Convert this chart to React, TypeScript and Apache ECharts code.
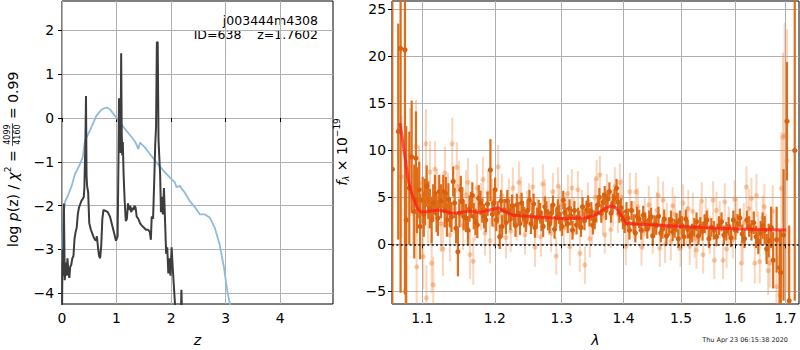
import React, { useEffect, useRef } from 'react';
import * as echarts from 'echarts';

// ---------- left panel: log p(z) (dark) and prior-like curve (blue) ----------
const pdfCurve: [number, number][] = [
  [0.0, -4.5], [0.01, -3.0], [0.02, -3.6], [0.035, -1.95], [0.05, -3.7], [0.07, -3.3], [0.085, -3.6],
  [0.1, -3.2], [0.12, -3.55], [0.135, -3.65], [0.15, -3.4], [0.17, -3.35], [0.19, -3.2], [0.21, -3.15],
  [0.23, -2.75], [0.25, -2.6], [0.27, -2.5], [0.29, -2.2], [0.31, -2.05], [0.33, -1.98], [0.36, -1.88],
  [0.38, -1.85], [0.4, -1.8], [0.41, -1.6], [0.43, -0.5], [0.44, 0.5], [0.45, -1.3], [0.46, -1.55],
  [0.48, -1.7], [0.5, -2.4], [0.53, -2.55], [0.56, -2.65], [0.59, -2.75], [0.62, -2.8], [0.64, -2.7],
  [0.66, -2.95], [0.68, -3.15], [0.7, -3.2], [0.72, -2.9], [0.74, -2.3], [0.76, -2.1], [0.8, -2.12],
  [0.84, -2.15], [0.88, -2.25], [0.92, -2.45], [0.96, -2.65], [0.99, -2.8], [1.02, -2.7], [1.035, -1.0],
  [1.045, 0.45], [1.06, -0.3], [1.075, -0.8], [1.085, 1.48], [1.095, -0.3], [1.105, -0.85], [1.115, -0.55],
  [1.13, -1.3], [1.15, -1.9], [1.17, -2.35], [1.19, -2.3], [1.21, -1.95], [1.23, -2.1], [1.25, -2.0],
  [1.27, -2.15], [1.29, -2.05], [1.31, -2.1], [1.33, -2.0], [1.35, -2.05], [1.37, -2.25], [1.4, -2.3],
  [1.43, -2.4], [1.46, -2.45], [1.5, -2.5], [1.54, -2.55], [1.58, -2.55], [1.61, -2.6], [1.63, -2.78],
  [1.645, -2.25], [1.67, -2.3], [1.69, -1.5], [1.71, -0.6], [1.725, -0.2], [1.74, 1.73], [1.755, 1.73],
  [1.77, -0.5], [1.785, -0.9], [1.8, -1.3], [1.815, -2.15], [1.83, -1.8], [1.85, -2.2], [1.87, -1.6],
  [1.89, -2.35], [1.91, -3.1], [1.93, -2.95], [1.95, -3.55], [1.97, -3.2], [1.99, -3.6], [2.01, -2.95],
  [2.03, -3.4], [2.06, -4.0], [2.09, -4.6], [2.12, -5.5], [2.17, -5.0], [2.19, -3.92], [2.2, -4.4], [2.22, -6.5],
];

const priorCurve: [number, number][] = [
  [0.0, -3.3], [0.01, -2.7], [0.03, -2.2], [0.06, -1.9], [0.11, -1.77], [0.177, -1.55], [0.238, -1.28],
  [0.33, -1.05], [0.38, -0.9], [0.42, -0.52], [0.48, -0.37], [0.54, -0.21], [0.63, 0.05], [0.73, 0.2],
  [0.82, 0.24], [0.88, 0.2], [0.97, 0.05], [1.06, -0.1], [1.18, -0.29], [1.28, -0.44], [1.35, -0.56],
  [1.4, -0.71], [1.43, -0.56], [1.52, -0.67], [1.61, -0.82], [1.73, -1.01], [1.86, -1.2], [1.98, -1.36],
  [2.07, -1.47], [2.1, -1.58], [2.16, -1.55], [2.25, -1.7], [2.34, -1.89], [2.44, -2.04], [2.53, -2.2],
  [2.62, -2.2], [2.71, -2.27], [2.8, -2.5], [2.89, -2.88], [2.97, -3.41], [3.03, -3.94], [3.08, -4.25], [3.15, -5.0],
];

const zTicks = [0, 1, 2, 3, 4];
const logpTicks = [-4, -3, -2, -1, 0, 1, 2];

// ---------- right panel: spectrum [lambda (um), f_lambda, error] ----------
const specFaded: [number, number, number][] = [
  [1.0731, 7.2, 6.5], [1.0774, -5.0, 5], [1.0839, 9.5, 5], [1.0878, 4.0, 4], [1.0917, 10.4, 5],
  [1.0926, -2.4, 4.5], [1.0957, 6.5, 4], [1.1013, -1.3, 3.5], [1.1049, 10.7, 3.7], [1.1055, -5.7, 3.5],
  [1.1102, 7.7, 3.3], [1.1124, -2.0, 3.2], [1.1146, -4.3, 3], [1.1195, 5.0, 3], [1.1249, 2.2, 3],
  [1.1303, 7.6, 2.8], [1.1344, 4.8, 2.8], [1.1402, 10.7, 2.8], [1.1439, 3.8, 2.7], [1.1494, 6.2, 2.7],
  [1.155, 2.0, 2.6], [1.1592, 5.3, 2.6], [1.1647, -1.1, 2.6], [1.1693, -1.8, 2.5], [1.1745, 6.0, 2.5],
  [1.1801, 4.0, 2.5], [1.1858, 1.2, 2.4], [1.1901, 5.5, 2.4], [1.1957, 4.6, 2.4], [1.2, 2.0, 2.3],
  [1.2047, 8.26, 2.3], [1.2101, 5.2, 2.3], [1.216, 0.7, 2.2], [1.2203, 4.8, 2.2], [1.2262, 6.0, 2.2],
  [1.232, 2.6, 2.2], [1.238, 5.0, 2.2], [1.244, 1.0, 2.1], [1.2499, 4.4, 2.1], [1.2559, 6.1, 2.1],
  [1.262, 2.8, 2.1], [1.268, 0.8, 2.1], [1.2741, 4.8, 2.1], [1.2803, 3.0, 2.0], [1.2864, 5.6, 2.0],
  [1.2917, -1.25, 2.0], [1.2972, 4.2, 2.0], [1.3035, 1.8, 2.0], [1.3097, 5.4, 2.0], [1.3128, -0.25, 2.0],
  [1.3191, 3.0, 2.0], [1.3255, 5.8, 2.0], [1.3287, -0.96, 2.0], [1.3367, -2.2, 2.0], [1.3415, 4.6, 2.0],
  [1.3479, 2.0, 2.0], [1.3555, 7.0, 2.0], [1.3609, 7.4, 2.0], [1.3658, 3.0, 2.0], [1.3723, 5.5, 2.0],
  [1.3789, 1.6, 2.0], [1.3855, 6.2, 2.0], [1.3905, 3.2, 2.0], [1.3972, 5.0, 2.0], [1.404, -0.2, 2.0],
  [1.4107, 5.6, 2.0], [1.4175, 2.6, 2.0], [1.4242, 4.0, 2.0], [1.4305, -0.25, 2.0], [1.4361, 2.9, 2.0],
  [1.4431, 4.2, 2.0], [1.45, 1.0, 2.0], [1.457, 3.6, 2.0], [1.4623, -0.4, 2.0], [1.4681, 4.7, 2.0],
  [1.4746, 2.4, 2.0], [1.4817, 0.3, 2.0], [1.4888, 3.2, 2.0], [1.4959, 1.3, 2.0], [1.5036, 4.4, 2.0],
  [1.5103, 2.0, 2.0], [1.5157, -0.2, 2.0], [1.5212, 3.5, 2.0], [1.5279, -0.6, 2.0], [1.534, 2.4, 2.0],
  [1.5401, -1.1, 2.0], [1.5451, 3.0, 2.0], [1.5525, 1.0, 2.0], [1.5587, 4.7, 2.0], [1.561, -1.7, 2.0],
  [1.5712, 2.6, 2.0], [1.5774, -1.7, 2.0], [1.5806, 4.5, 2.0], [1.5882, 2.0, 2.0], [1.5959, 0.5, 2.0],
  [1.6035, 3.0, 2.0], [1.6126, -2.0, 2.0], [1.617, 2.3, 2.1], [1.6222, 6.1, 2.2], [1.632, 4.9, 2.2],
  [1.6385, -2.0, 2.2], [1.6418, 5.2, 2.3], [1.6483, -1.85, 2.3], [1.6543, 2.8, 2.4], [1.6603, 0.8, 2.5],
  [1.6682, -2.0, 2.6], [1.6742, 3.5, 2.8], [1.6817, -4.5, 3], [1.6882, -5.4, 4], [1.6916, 5.96, 6],
  [1.6949, 11.4, 9], [1.6983, 11.6, 12], [1.703, 8.9, 14],
];

const specFadedB: [number, number, number][] = [
  [1.1075, 3.5, 3.4], [1.117, 8.0, 3], [1.1275, -0.5, 2.9], [1.137, 1.0, 2.8], [1.1465, 8.2, 2.7],
  [1.152, 4.5, 2.6], [1.162, 6.6, 2.6], [1.172, 2.9, 2.5], [1.183, 6.9, 2.4], [1.193, 0.4, 2.4],
  [1.2075, 3.0, 2.3], [1.223, 1.4, 2.2], [1.235, 6.6, 2.2], [1.247, 3.6, 2.1], [1.259, -0.3, 2.1],
  [1.271, 6.4, 2.1], [1.2835, 1.2, 2.0], [1.2945, 6.2, 2.0], [1.3065, 3.5, 2.0], [1.316, 6.0, 2.0],
  [1.332, 3.8, 2.0], [1.3445, 0.6, 2.0], [1.353, 5.0, 2.0], [1.369, 1.0, 2.0], [1.3825, 3.9, 2.0],
  [1.394, 6.6, 2.0], [1.4075, 1.8, 2.0], [1.421, 5.6, 2.0], [1.4335, 1.4, 2.0], [1.4465, 3.0, 2.0],
  [1.4595, 5.2, 2.0], [1.4715, 0.0, 2.0], [1.485, 4.1, 2.0], [1.499, -0.4, 2.0], [1.513, 3.8, 2.0],
  [1.5245, 0.6, 2.0], [1.5375, 4.6, 2.0], [1.549, 1.8, 2.0], [1.565, 3.6, 2.0], [1.584, -0.5, 2.0],
  [1.5995, 4.8, 2.0], [1.615, 0.2, 2.0], [1.627, 3.8, 2.1], [1.645, 1.2, 2.3], [1.6575, 4.0, 2.4],
  [1.665, -2.8, 2.6],
];

const specSolid: [number, number, number][] = [
  [1.0612, 8.0, 22], [1.0688, 12.0, 11.5], [1.0718, 20.85, 26], [1.0774, 20.7, 26], [1.079, 2.6, 10],
  [1.083, 6.0, 6], [1.0861, 9.3, 6], [1.0895, 3.5, 5], [1.0917, 9.15, 5], [1.093, 4.7, 3.5],
  [1.096, 5.8, 3], [1.0972, 1.9, 3.5], [1.1005, 4.7, 2.5], [1.1036, 4.5, 2.5], [1.108, 4.7, 2],
  [1.1124, 2.6, 2.5], [1.1168, 5.4, 2], [1.119, 3.3, 2], [1.1226, 5.6, 1.8], [1.128, 5.6, 1.8],
  [1.1315, 5.4, 1.8], [1.133, 2.6, 1.8], [1.137, 3.4, 1.6], [1.1415, 6.7, 1.6], [1.1455, 1.7, 1.6],
  [1.148, -0.8, 2.6], [1.152, 5.8, 1.5], [1.156, 3.0, 1.5], [1.162, 1.5, 1.5], [1.166, 4.2, 1.4],
  [1.17, 3.0, 1.4], [1.175, 2.05, 1.4], [1.177, 4.9, 1.4], [1.182, 3.6, 1.3], [1.187, 2.6, 1.3],
  [1.1936, 7.9, 3.3], [1.1965, 3.2, 1.3], [1.2003, 5.8, 1.3], [1.204, 3.4, 1.2], [1.207, 0.8, 1.3],
  [1.2105, 1.9, 1.2], [1.2138, 3.65, 1.2], [1.218, 4.6, 1.2], [1.2225, 2.7, 1.2], [1.2276, 3.1, 1.2],
  [1.232, 4.2, 1.2], [1.2367, 2.2, 1.2], [1.241, 3.5, 1.1], [1.2455, 2.4, 1.1], [1.2507, 4.7, 1.1],
  [1.255, 3.0, 1.1], [1.259, 1.8, 1.1], [1.2647, 3.65, 1.1], [1.269, 2.5, 1.1], [1.274, 4.0, 1.1],
  [1.279, 2.6, 1.1], [1.284, 3.3, 1.0], [1.289, 1.6, 1.0], [1.294, 3.8, 1.0], [1.298, 2.4, 1.0],
  [1.3025, 4.7, 1.0], [1.307, 2.9, 1.0], [1.3123, 3.8, 1.0], [1.317, 1.5, 1.0], [1.3234, 2.05, 1.0],
  [1.328, 2.6, 1.0], [1.333, 4.0, 1.0], [1.3394, 3.65, 1.0], [1.344, 2.9, 1.0], [1.3497, 2.05, 1.0],
  [1.355, 3.3, 1.0], [1.3601, 5.0, 1.0], [1.3664, 4.5, 1.0], [1.371, 3.6, 1.0], [1.3765, 5.6, 1.0],
  [1.382, 4.4, 1.0], [1.3884, 5.96, 1.0], [1.393, 3.3, 1.0], [1.399, 2.6, 1.0], [1.405, 3.5, 1.0],
  [1.41, 1.5, 1.0], [1.417, 2.2, 1.0], [1.423, 3.0, 1.0], [1.43, 1.5, 1.0], [1.437, 2.4, 1.0],
  [1.4438, 2.6, 1.0], [1.45, 0.9, 1.0], [1.456, 2.0, 1.0], [1.464, 1.2, 1.0], [1.47, 2.7, 1.0],
  [1.4787, 1.9, 1.0], [1.485, 1.35, 1.0], [1.492, 2.3, 1.0], [1.498, 2.6, 1.0], [1.505, 0.8, 1.0],
  [1.512, 1.6, 1.0], [1.52, 1.2, 1.0], [1.528, 2.4, 1.0], [1.535, 1.9, 1.0], [1.543, 2.2, 1.0],
  [1.551, 0.6, 1.0], [1.56, 1.5, 1.0], [1.5697, 2.0, 1.0], [1.579, 1.0, 1.0], [1.588, 1.9, 1.0],
  [1.597, 2.6, 1.0], [1.605, 2.2, 1.0], [1.614, 1.1, 1.0], [1.623, 2.6, 1.0], [1.632, 1.5, 1.1],
  [1.641, 0.8, 1.2], [1.65, 1.2, 1.3], [1.658, 1.5, 1.5], [1.666, 0.4, 1.8], [1.675, -1.7, 3],
  [1.682, 0.5, 3.5], [1.688, -2.5, 4], [1.6905, -3.0, 4.5], [1.696, 1.0, 7], [1.703, 13.1, 6.3],
  [1.7075, -6.0, 8], [1.7189, 10.0, 16],
];

const specSolidB: [number, number, number][] = [
  [1.102, 3.2, 2.4], [1.1058, 6.2, 2.2], [1.11, 3.8, 2.1], [1.1145, 4.4, 2], [1.1208, 2.8, 1.9],
  [1.125, 4.6, 1.8], [1.13, 3.6, 1.8], [1.135, 4.8, 1.7], [1.1392, 2.9, 1.6], [1.1435, 4.4, 1.6],
  [1.15, 3.3, 1.5], [1.154, 4.6, 1.5], [1.159, 2.8, 1.5], [1.164, 3.8, 1.4], [1.168, 5.2, 1.4],
  [1.1725, 2.4, 1.4], [1.1795, 4.4, 1.3], [1.1845, 3.0, 1.3], [1.1895, 4.3, 1.3], [1.1985, 4.4, 1.3],
  [1.202, 2.6, 1.2], [1.209, 4.6, 1.2], [1.216, 2.3, 1.2], [1.22, 3.5, 1.2], [1.225, 4.1, 1.2],
  [1.23, 2.0, 1.2], [1.2345, 3.3, 1.2], [1.239, 4.4, 1.1], [1.243, 2.9, 1.1], [1.248, 3.6, 1.1],
  [1.253, 2.2, 1.1], [1.257, 4.3, 1.1], [1.262, 2.8, 1.1], [1.267, 3.3, 1.1], [1.2715, 1.9, 1.1],
  [1.2765, 3.5, 1.1], [1.2815, 2.2, 1.0], [1.2865, 4.2, 1.0], [1.2915, 2.8, 1.0], [1.296, 3.2, 1.0],
  [1.3005, 1.9, 1.0], [1.3048, 3.4, 1.0], [1.3095, 2.2, 1.0], [1.3145, 3.0, 1.0], [1.32, 3.6, 1.0],
  [1.3257, 2.9, 1.0], [1.3305, 1.8, 1.0], [1.336, 2.5, 1.0], [1.3418, 4.2, 1.0], [1.347, 3.5, 1.0],
  [1.3525, 2.6, 1.0], [1.3575, 4.2, 1.0], [1.3632, 3.3, 1.0], [1.3688, 5.2, 1.0], [1.3737, 4.8, 1.0],
  [1.3792, 3.3, 1.0], [1.385, 4.9, 1.0], [1.3908, 4.5, 1.0], [1.396, 3.9, 1.0], [1.402, 2.2, 1.0],
  [1.4075, 2.8, 1.0], [1.4135, 3.6, 1.0], [1.42, 1.2, 1.0], [1.4265, 2.7, 1.0], [1.4335, 3.1, 1.0],
  [1.4405, 1.6, 1.0], [1.447, 2.9, 1.0], [1.453, 2.1, 1.0], [1.46, 3.0, 1.0], [1.467, 1.6, 1.0],
  [1.474, 0.9, 1.0], [1.482, 2.6, 1.0], [1.4885, 1.7, 1.0], [1.495, 0.6, 1.0], [1.5015, 2.0, 1.0],
  [1.5085, 2.7, 1.0], [1.516, 0.9, 1.0], [1.524, 1.8, 1.0], [1.5315, 0.9, 1.0], [1.539, 1.4, 1.0],
  [1.547, 2.6, 1.0], [1.5555, 1.8, 1.0], [1.565, 0.8, 1.0], [1.5745, 2.4, 1.0], [1.5835, 1.4, 1.0],
  [1.5925, 0.7, 1.0], [1.601, 1.5, 1.0], [1.6095, 2.8, 1.0], [1.6185, 0.6, 1.0], [1.6275, 1.9, 1.1],
  [1.6365, 2.3, 1.2], [1.6455, 0.3, 1.3], [1.654, 2.0, 1.4], [1.662, -0.5, 1.6], [1.671, 1.8, 2.2],
];

const modelLam = [1.071, 1.0731, 1.0774, 1.0817, 1.0861, 1.0926, 1.097, 1.1058, 1.1213, 1.1327, 1.1394,
  1.1508, 1.1647, 1.1787, 1.1929, 1.2047, 1.2121, 1.2266, 1.2465, 1.2767, 1.3077, 1.3394, 1.3555,
  1.3691, 1.3801, 1.3884, 1.3994, 1.4051, 1.4276, 1.4858, 1.5464, 1.6093, 1.7015];
const modelFlux = [12.9, 11.8, 9.3, 6.8, 5.4, 4.0, 3.47, 3.47, 3.65, 3.47, 3.3, 3.4, 3.55, 3.4, 3.65,
  3.9, 3.55, 3.1, 3.0, 2.85, 2.72, 2.83, 3.2, 3.83, 4.1, 3.83, 2.77, 2.23, 2.13, 1.95, 1.77, 1.63, 1.52];

const lamTicks = [1.1, 1.2, 1.3, 1.4, 1.5, 1.6, 1.7];
const fluxTicks = [-5, 0, 5, 10, 15, 20, 25];
const lamRange = [1.0608, 1.7277];

const FONT = '"DejaVu Sans", sans-serif';
const fmtMinus = (v: number) => (v < 0 ? '\u2212' + Math.abs(v) : String(v));

function errRender(barColor: string, dotColor: string, barW: number, r: number) {
  return (params: any, api: any) => {
    const x = api.value(0), y = api.value(1), e = api.value(2);
    const p1 = api.coord([x, y - e]);
    const p2 = api.coord([x, y + e]);
    const pc = api.coord([x, y]);
    return {
      type: 'group',
      children: [
        { type: 'line', shape: { x1: p1[0], y1: p1[1], x2: p2[0], y2: p2[1] }, style: { stroke: barColor, lineWidth: barW } },
        { type: 'circle', shape: { cx: pc[0], cy: pc[1], r }, style: { fill: dotColor } },
      ],
    };
  };
}

export default function App() {
  const ref = useRef<HTMLDivElement>(null);
  useEffect(() => {
    if (!ref.current) return;
    const chart = echarts.init(ref.current, undefined, { renderer: 'svg' });
    const ctx = document.createElement('canvas').getContext('2d')!;
    const mw = (t: string, f: string) => { ctx.font = f; return ctx.measureText(t).width; };

    const fs = 14;
    const normal = `${fs}px ${FONT}`;
    const italic = `italic ${fs}px ${FONT}`;
    const small = `9px ${FONT}`;
    const smallIt = `italic 9px ${FONT}`;
    const tiny = `8px ${FONT}`;

    const leftPieces: any[] = [];
    let cx = 0;
    const addPiece = (t: string, f: string, dy = 0, arr = leftPieces) => {
      arr.push({ type: 'text', x: cx, y: dy, style: { text: t, font: f, fill: '#000', verticalAlign: 'middle', align: 'left' } });
      cx += mw(t, f);
    };
    addPiece('log ', normal);
    addPiece('p', italic);
    addPiece('(z) / ', normal);
    addPiece('\u03c7', italic);
    addPiece('2', small, -5);
    addPiece(' = ', normal);
    const num = '4099', den = '4160';
    const fw = Math.max(mw(num, tiny), mw(den, tiny)) + 2;
    leftPieces.push({ type: 'text', x: cx + fw / 2, y: -5, style: { text: num, font: tiny, fill: '#000', align: 'center', verticalAlign: 'middle' } });
    leftPieces.push({ type: 'line', shape: { x1: cx, y1: 0, x2: cx + fw, y2: 0 }, style: { stroke: '#000', lineWidth: 0.7 } });
    leftPieces.push({ type: 'text', x: cx + fw / 2, y: 5, style: { text: den, font: tiny, fill: '#000', align: 'center', verticalAlign: 'middle' } });
    cx += fw;
    addPiece(' = 0.99', normal);

    const rightPieces: any[] = [];
    cx = 0;
    addPiece('f', italic, 0, rightPieces);
    addPiece('\u03bb', smallIt, 4, rightPieces);
    addPiece(' \u00d7 10', normal, 0, rightPieces);
    addPiece('\u221219', small, -5, rightPieces);
    const rightW = cx;

    const lnTicks = lamTicks.map((v) => Math.log(v));
    const axisLabelStyle = { color: '#000', fontSize: 13.9, fontFamily: FONT };
    const splitLine = { show: true, lineStyle: { color: '#b0b0b0', width: 1 } };
    const tick = (vals: number[]) => ({ show: true, inside: false, length: 4, lineStyle: { color: '#000', width: 1 }, customValues: vals });
    const toLn = (arr: [number, number, number][]) => arr.map((d) => [Math.log(d[0]), d[1], d[2]]);

    const option: any = {
      animation: false,
      grid: [
        { left: 62, top: 1, width: 271, height: 303, show: true, borderColor: '#000', borderWidth: 1, backgroundColor: 'transparent' },
        { left: 392, top: 1, width: 407, height: 303, show: true, borderColor: '#000', borderWidth: 1, backgroundColor: 'transparent' },
      ],
      xAxis: [
        {
          type: 'value', gridIndex: 0, min: 0, max: 4.97,
          axisLine: { show: false }, axisTick: tick(zTicks),
          axisLabel: { ...axisLabelStyle, customValues: zTicks, margin: 7, formatter: fmtMinus },
          splitLine,
        },
        {
          type: 'value', gridIndex: 1, min: Math.log(lamRange[0]), max: Math.log(lamRange[1]),
          axisLine: { show: false }, axisTick: tick(lnTicks),
          axisLabel: { ...axisLabelStyle, customValues: lnTicks, margin: 7, formatter: (v: number) => Math.exp(v).toFixed(1) },
          splitLine,
        },
      ],
      yAxis: [
        {
          type: 'value', gridIndex: 0, min: -4.245, max: 2.67,
          axisLine: { show: false }, axisTick: tick(logpTicks),
          axisLabel: { ...axisLabelStyle, customValues: logpTicks, margin: 8, formatter: fmtMinus },
          splitLine,
        },
        {
          type: 'value', gridIndex: 1, min: -6.35, max: 25.9,
          axisLine: { show: false }, axisTick: tick(fluxTicks),
          axisLabel: { ...axisLabelStyle, customValues: fluxTicks, margin: 6, formatter: fmtMinus },
          splitLine,
        },
      ],
      series: [
        {
          type: 'line', xAxisIndex: 0, yAxisIndex: 0, data: priorCurve, showSymbol: false, symbol: 'none',
          lineStyle: { color: '#8fbbd9', width: 1.8 }, clip: true, z: 2, silent: true,
        },
        {
          type: 'line', xAxisIndex: 0, yAxisIndex: 0, data: pdfCurve, showSymbol: false, symbol: 'none',
          lineStyle: { color: '#3d3d3d', width: 2 }, clip: true, z: 3, silent: true,
        },
        {
          type: 'custom', xAxisIndex: 1, yAxisIndex: 1, clip: true, z: 2, silent: true,
          data: toLn(specFaded.concat(specFadedB)),
          renderItem: errRender('rgba(238,140,70,0.36)', 'rgba(236,130,55,0.42)', 2, 2.5),
        },
        {
          type: 'custom', xAxisIndex: 1, yAxisIndex: 1, clip: true, z: 3, silent: true,
          data: toLn(specSolid.concat(specSolidB)),
          renderItem: errRender('#df6c18', '#d9600c', 2.2, 2.6),
        },
        {
          type: 'line', xAxisIndex: 1, yAxisIndex: 1, showSymbol: false, symbol: 'none', clip: true, z: 4, silent: true,
          data: modelLam.map((l, i) => [Math.log(l), modelFlux[i]]),
          lineStyle: { color: 'rgba(255,25,25,0.72)', width: 3 },
          markLine: {
            silent: true, symbol: ['none', 'none'], label: { show: false },
            lineStyle: { color: '#111', type: [2, 2.4], width: 1.6 },
            data: [{ yAxis: 0 }],
            z: 6,
          },
        },
      ],
      graphic: [
        { type: 'group', x: 12.5, y: 247, rotation: Math.PI / 2, children: leftPieces },
        { type: 'group', x: 342, y: 152 + rightW / 2, rotation: Math.PI / 2, children: rightPieces },
        { type: 'text', x: 318, y: 20.5, style: { text: 'j003444m4308', font: `12.5px ${FONT}`, fill: '#000', align: 'right', verticalAlign: 'middle' } },
        { type: 'text', x: 318, y: 34, style: { text: 'ID=638    z=1.7602', font: `12.5px ${FONT}`, fill: '#000', align: 'right', verticalAlign: 'middle' } },
        { type: 'text', x: 197.5, y: 340, style: { text: 'z', font: italic, fill: '#000', align: 'center', verticalAlign: 'middle' } },
        { type: 'text', x: 595.5, y: 340, style: { text: '\u03bb', font: italic, fill: '#000', align: 'center', verticalAlign: 'middle' } },
        { type: 'text', x: 788, y: 339.5, style: { text: 'Thu Apr 23 06:15:38 2020', font: `6.5px ${FONT}`, fill: '#222', align: 'right', verticalAlign: 'middle' } },
      ],
    };
    chart.setOption(option);
    return () => chart.dispose();
  }, []);
  return <div ref={ref} style={{ position: 'fixed', left: 0, top: 0, width: 800, height: 350, background: '#fff' }} />;
}
